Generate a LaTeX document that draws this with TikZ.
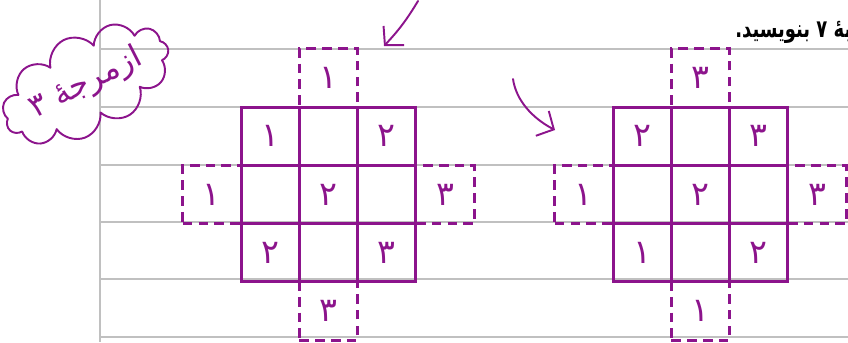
\documentclass[tikz,border=0pt]{standalone}
\usepackage{fontspec}
\newfontfamily\arabicfont[Script=Arabic]{DejaVu Sans}
\TeXXeTstate=1
\usetikzlibrary{arrows.meta,positioning,shapes.symbols}
\definecolor{penpurple}{RGB}{140,20,140}
\definecolor{rulegray}{RGB}{192,192,192}

\begin{document}
\begin{tikzpicture}[
  x=0.02cm, y=-0.02cm,
  cell/.style={draw=penpurple, line width=1.7pt, minimum size=1.166cm, inner sep=0pt, outer sep=0pt, text=penpurple, font=\arabicfont\fontsize{19}{19}\selectfont},
  guess/.style={cell, dash pattern=on 5.5pt off 3.5pt},
  rule/.style={draw=rulegray, line width=0.8pt},
  pen/.style={draw=penpurple, line width=1.1pt, line cap=round, line join=round},
  penarr/.style={pen, -{Straight Barb[length=2.6mm,width=5.6mm]}}
]
\useasboundingbox (0,0) rectangle (848,342);

% ruled paper
\foreach \y in {49,107,165,222,279,337}
  \draw[rule] (100,\y) -- (848,\y);
\draw[rule] (100,0) -- (100,342);

% left square
\foreach \r/\c/\d in {0/0/۱, 0/1/, 0/2/۲, 1/0/, 1/1/۲, 1/2/, 2/0/۲, 2/1/, 2/2/۳}
  \node[cell] (L\r\c) at ({270.2+58.3*\c},{136.2+58.3*\r}) {\d};
\node[guess, above=0pt of L01] (Ltop) {۱};
\node[guess, left=0pt of L10] (Lleft) {۱};
\node[guess, right=0pt of L12] (Lright) {۳};
\node[guess, below=0pt of L21] (Lbottom) {۳};

% right square
\foreach \r/\c/\d in {0/0/۲, 0/1/, 0/2/۳, 1/0/, 1/1/۲, 1/2/, 2/0/۱, 2/1/, 2/2/۲}
  \node[cell] (R\r\c) at ({642.2+58.3*\c},{136.2+58.3*\r}) {\d};
\node[guess, above=0pt of R01] (Rtop) {۳};
\node[guess, left=0pt of R10] (Rleft) {۱};
\node[guess, right=0pt of R12] (Rright) {۳};
\node[guess, below=0pt of R21] (Rbottom) {۱};

% handwritten notes
\node[cloud, pen, cloud puffs=11, aspect=2.7, rotate=27, minimum width=2.9cm, minimum height=1.3cm, inner sep=0pt, text=penpurple, font=\arabicfont\fontsize{18}{18}\selectfont] (note) at (86,84) {\beginR ازمرجهٔ ۳\endR};
\coordinate (tipA) at (384,46);
\coordinate (tailA) at (418,1);
\draw[penarr] (tailA) to[bend left=6] (tipA);
\coordinate (tailB) at (513,79);
\coordinate (tipB) at (555,130);
\draw[penarr] (tailB) .. controls (516,100) and (532,118) .. (tipB);

% task text
\node[anchor=base west, inner sep=0pt, font=\arabicfont\bfseries\fontsize{14}{14}\selectfont] (task) at (735,37) {\scalebox{0.73}[1]{\beginR بهٔ ۷ بنویسید.\endR}};
\end{tikzpicture}
\end{document}
